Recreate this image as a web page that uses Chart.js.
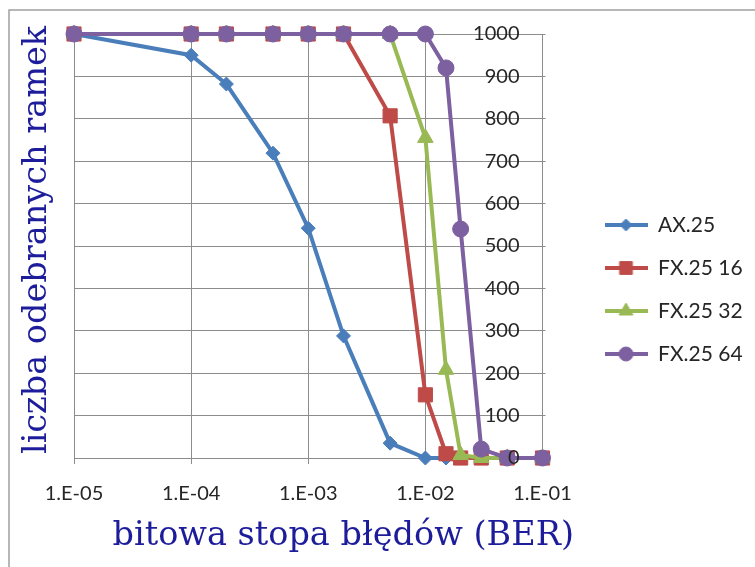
<!DOCTYPE html>
<html lang="pl">
<head>
<meta charset="UTF-8">
<title>Liczba odebranych ramek a BER</title>
<script src="https://cdn.jsdelivr.net/npm/chart.js@4.4.1/dist/chart.umd.min.js"></script>
<style>
  html, body { margin: 0; padding: 0; background: #fff; }
</style>
</head>
<body>
<canvas id="berChart" width="755" height="567"></canvas>
<script>
// bit error rate, the same points for all series
const ber = [1e-5, 1e-4, 2e-4, 5e-4, 1e-3, 2e-3, 5e-3, 1e-2, 1.5e-2, 2e-2, 3e-2, 5e-2, 1e-1];

// received frames (out of 1000 sent)
const ax25    = [1000, 950, 882, 719, 542, 288, 35, 0, 0, 0, 0, 0, 0];
const fx25_16 = [1000, 1000, 1000, 1000, 1000, 1000, 807, 149, 10, 0, 0, 0, 0];
const fx25_32 = [1000, 1000, 1000, 1000, 1000, 1000, 1000, 755, 208, 7, 0, 0, 0];
const fx25_64 = [1000, 1000, 1000, 1000, 1000, 1000, 1000, 1000, 920, 540, 21, 0, 0];

const seriesNames = ['AX.25', 'FX.25 16', 'FX.25 32', 'FX.25 64'];
const xTicks = [1e-5, 1e-4, 1e-3, 1e-2, 1e-1];
const xTickLabels = ['1.E-05', '1.E-04', '1.E-03', '1.E-02', '1.E-01'];
const xTitle = 'bitowa stopa błędów (BER)';
const yTitle = 'liczba odebranych ramek';

// look
const colors = ['#4a7ebb', '#be4b48', '#98b954', '#7d60a0'];
const markers = ['rectRot', 'rect', 'triangle', 'circle'];
const markerSize = [7, 10, 9, 8];
const gridColor = '#8c8c8c';
const textColor = '#262626';
const titleColor = '#1d1d9b';

const series = [ax25, fx25_16, fx25_32, fx25_64];

// legend icons: short line with the marker in the middle
function makeIcon(i) {
    const c = document.createElement('canvas');
    c.width = 43;
    c.height = 20;
    const g = c.getContext('2d');
    g.strokeStyle = colors[i];
    g.fillStyle = colors[i];
    g.lineWidth = 4;
    g.beginPath();
    g.moveTo(0, 10);
    g.lineTo(43, 10);
    g.stroke();
    g.lineWidth = 1;
    Chart.helpers.drawPoint(g, {pointStyle: markers[i], radius: markerSize[i] - 1, rotation: 0, borderWidth: 1}, 21.5, 10);
    return c;
}
const legendIcons = series.map((s, i) => makeIcon(i));

// frame and the two axis titles
const decor = {
    id: 'decor',
    beforeDraw(chart) {
        const ctx = chart.ctx;
        ctx.save();
        ctx.strokeStyle = '#a0a0a0';
        ctx.lineWidth = 1.5;
        ctx.beginPath();
        ctx.moveTo(9, 567);
        ctx.lineTo(9, 10);
        ctx.lineTo(755, 10);
        ctx.stroke();
        ctx.restore();
    },
    afterDraw(chart) {
        const ctx = chart.ctx;
        const area = chart.chartArea;
        ctx.save();
        ctx.fillStyle = titleColor;
        ctx.font = '33.5px "DejaVu Serif"';
        ctx.textAlign = 'center';
        ctx.textBaseline = 'alphabetic';
        ctx.fillText(xTitle, (area.left + area.right) / 2 + 35, 545);
        ctx.translate(46, (area.top + area.bottom) / 2 - 6);
        ctx.rotate(-Math.PI / 2);
        ctx.fillText(yTitle, 0, 0);
        ctx.restore();
    }
};

const ctx = document.getElementById('berChart').getContext('2d');

const berChart = new Chart(ctx, {
    type: 'line',
    data: {
        datasets: series.map((vals, i) => ({
            label: seriesNames[i],
            data: ber.map((x, k) => ({x: x, y: vals[k]})),
            borderColor: colors[i],
            backgroundColor: colors[i],
            borderWidth: 4,
            pointStyle: markers[i],
            pointRadius: markerSize[i],
            pointHoverRadius: markerSize[i],
            pointBorderWidth: 1,
            tension: 0,
            clip: false,
            order: series.length - 1 - i
        }))
    },
    options: {
        responsive: false,
        animation: false,
        devicePixelRatio: 1,
        layout: {
            padding: {left: 74, top: 34, right: 3, bottom: 22}
        },
        scales: {
            x: {
                type: 'logarithmic',
                min: 1e-5,
                max: 1e-1,
                afterBuildTicks: (scale) => {
                    scale.ticks = xTicks.map(v => ({value: v}));
                },
                afterFit: (scale) => {
                    scale.height = 87;
                },
                ticks: {
                    autoSkip: false,
                    maxRotation: 0,
                    padding: 18,
                    color: textColor,
                    font: {family: 'Lato', size: 20},
                    callback: (v, i) => xTickLabels[i]
                },
                grid: {color: gridColor, tickLength: 6},
                border: {color: gridColor}
            },
            y: {
                type: 'linear',
                position: 'right',
                min: 0,
                max: 1000,
                afterFit: (scale) => {
                    scale.width = 40;
                },
                ticks: {
                    stepSize: 100,
                    mirror: true,
                    padding: -23,
                    z: 1,
                    color: textColor,
                    font: {family: 'Lato', size: 20},
                    callback: (v) => String(v)
                },
                grid: {color: gridColor, tickLength: 3},
                border: {color: gridColor}
            }
        },
        plugins: {
            legend: {
                position: 'right',
                labels: {
                    usePointStyle: true,
                    pointStyleWidth: 43,
                    padding: 22,
                    color: textColor,
                    font: {family: 'Lato', size: 21},
                    sort: (a, b) => a.datasetIndex - b.datasetIndex,
                    generateLabels: (chart) => {
                        const items = Chart.defaults.plugins.legend.labels.generateLabels(chart);
                        items.forEach(item => {
                            item.pointStyle = legendIcons[item.datasetIndex];
                        });
                        return items;
                    }
                }
            },
            tooltip: {enabled: false}
        }
    },
    plugins: [decor]
});
</script>
</body>
</html>
